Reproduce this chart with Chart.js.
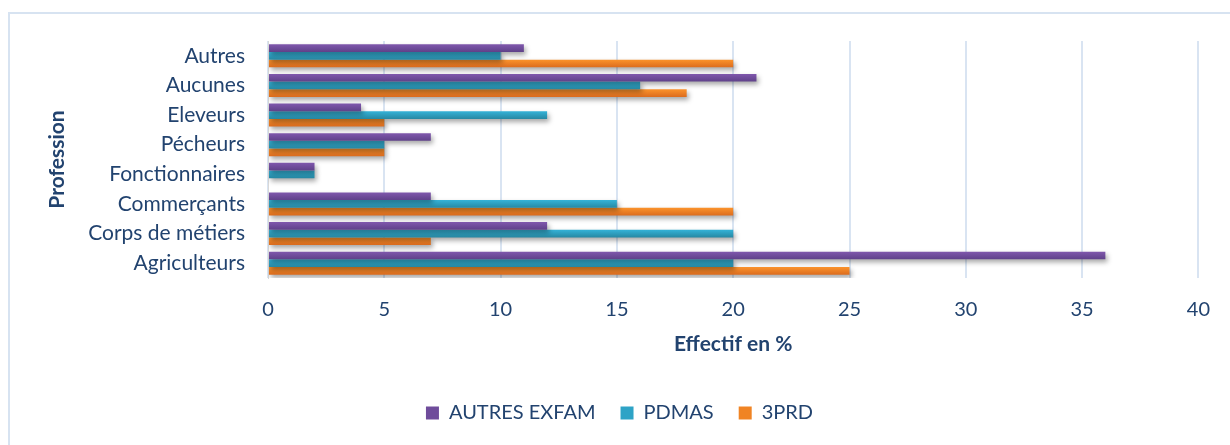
<!DOCTYPE html>
<html>
<head>
<meta charset="utf-8">
<script src="https://cdn.jsdelivr.net/npm/chart.js@4"></script>
<style>
  html, body { margin: 0; padding: 0; background: #fff; overflow: hidden; }
  #wrap { position: relative; width: 1230px; height: 445px; }
  #frame { position: absolute; left: 8px; top: 12px; width: 1300px; height: 500px; border: 2px solid #d7e3f1; box-sizing: border-box; }
  canvas { position: absolute; left: 0; top: 0; }
</style>
</head>
<body>
<div id="wrap">
  <div id="frame"></div>
  <canvas id="chart" width="1230" height="445"></canvas>
</div>
<script>
const professions = ['Autres', 'Aucunes', 'Eleveurs', 'Pécheurs', 'Fonctionnaires', 'Commerçants', 'Corps de métiers', 'Agriculteurs'];
const autresExfam = [11, 21, 4, 7, 2, 7, 12, 36];
const pdmas = [10, 16, 12, 5, 2, 15, 20, 20];
const prd3 = [20, 18, 5, 5, 0, 20, 7, 25];

const textColor = '#22436f';
const fontFam = 'Lato, "Open Sans", sans-serif';

// couleurs haut / bas pour le dégradé des barres
const shades = {
  'AUTRES EXFAM': ['#8058ad', '#5f4189'],
  'PDMAS': ['#35b3d8', '#2788a3'],
  '3PRD': ['#fb932c', '#dc6c1e']
};

const barLook = {
  id: 'barLook',
  beforeDatasetsDraw(chart) {
    const ctx = chart.ctx;
    chart.data.datasets.forEach((ds, i) => {
      const meta = chart.getDatasetMeta(i);
      const c = shades[ds.label];
      meta.data.forEach(el => {
        const h = el.height;
        const g = ctx.createLinearGradient(0, el.y - h / 2, 0, el.y + h / 2);
        g.addColorStop(0, c[0]);
        g.addColorStop(1, c[1]);
        el.options = Object.assign({}, el.options, { backgroundColor: g });
      });
    });
    ctx.save();
    ctx.shadowColor = 'rgba(0,0,0,0.35)';
    ctx.shadowBlur = 5;
    ctx.shadowOffsetX = 2;
    ctx.shadowOffsetY = 3;
  },
  afterDatasetsDraw(chart) {
    chart.ctx.restore();
  }
};

new Chart(document.getElementById('chart'), {
  type: 'bar',
  data: {
    labels: professions,
    datasets: [
      { label: 'AUTRES EXFAM', data: autresExfam, backgroundColor: '#6f4c9b' },
      { label: 'PDMAS', data: pdmas, backgroundColor: '#2ea3c6' },
      { label: '3PRD', data: prd3, backgroundColor: '#f08424' }
    ]
  },
  options: {
    indexAxis: 'y',
    responsive: false,
    animation: false,
    categoryPercentage: 0.78,
    barPercentage: 1,
    layout: { padding: { left: 40, top: 41, right: 31, bottom: 12 } },
    scales: {
      x: {
        min: 0,
        max: 40,
        ticks: { stepSize: 5, color: textColor, padding: 20, font: { family: fontFam, size: 20 } },
        grid: { color: '#d9e4f2', lineWidth: 2, drawTicks: false },
        border: { display: false },
        title: { display: true, text: 'Effectif en %', color: textColor, padding: { top: 21, bottom: 21 }, font: { family: fontFam, size: 21, weight: 'bold' } },
        afterFit(scale) { scale.height = 100; }
      },
      y: {
        ticks: { color: textColor, padding: 23, font: { family: fontFam, size: 21 } },
        grid: { display: false, drawTicks: false },
        border: { display: true, color: '#d9d9d9', width: 1 },
        title: { display: true, text: 'Profession', color: textColor, padding: 5, font: { family: fontFam, size: 21, weight: 'bold' } },
        afterFit(scale) { scale.width = 228; }
      }
    },
    plugins: {
      legend: {
        position: 'bottom',
        labels: { color: textColor, boxWidth: 13, boxHeight: 13, padding: 25, font: { family: fontFam, size: 20 } }
      },
      tooltip: { enabled: false }
    }
  },
  plugins: [barLook]
});
</script>
</body>
</html>
